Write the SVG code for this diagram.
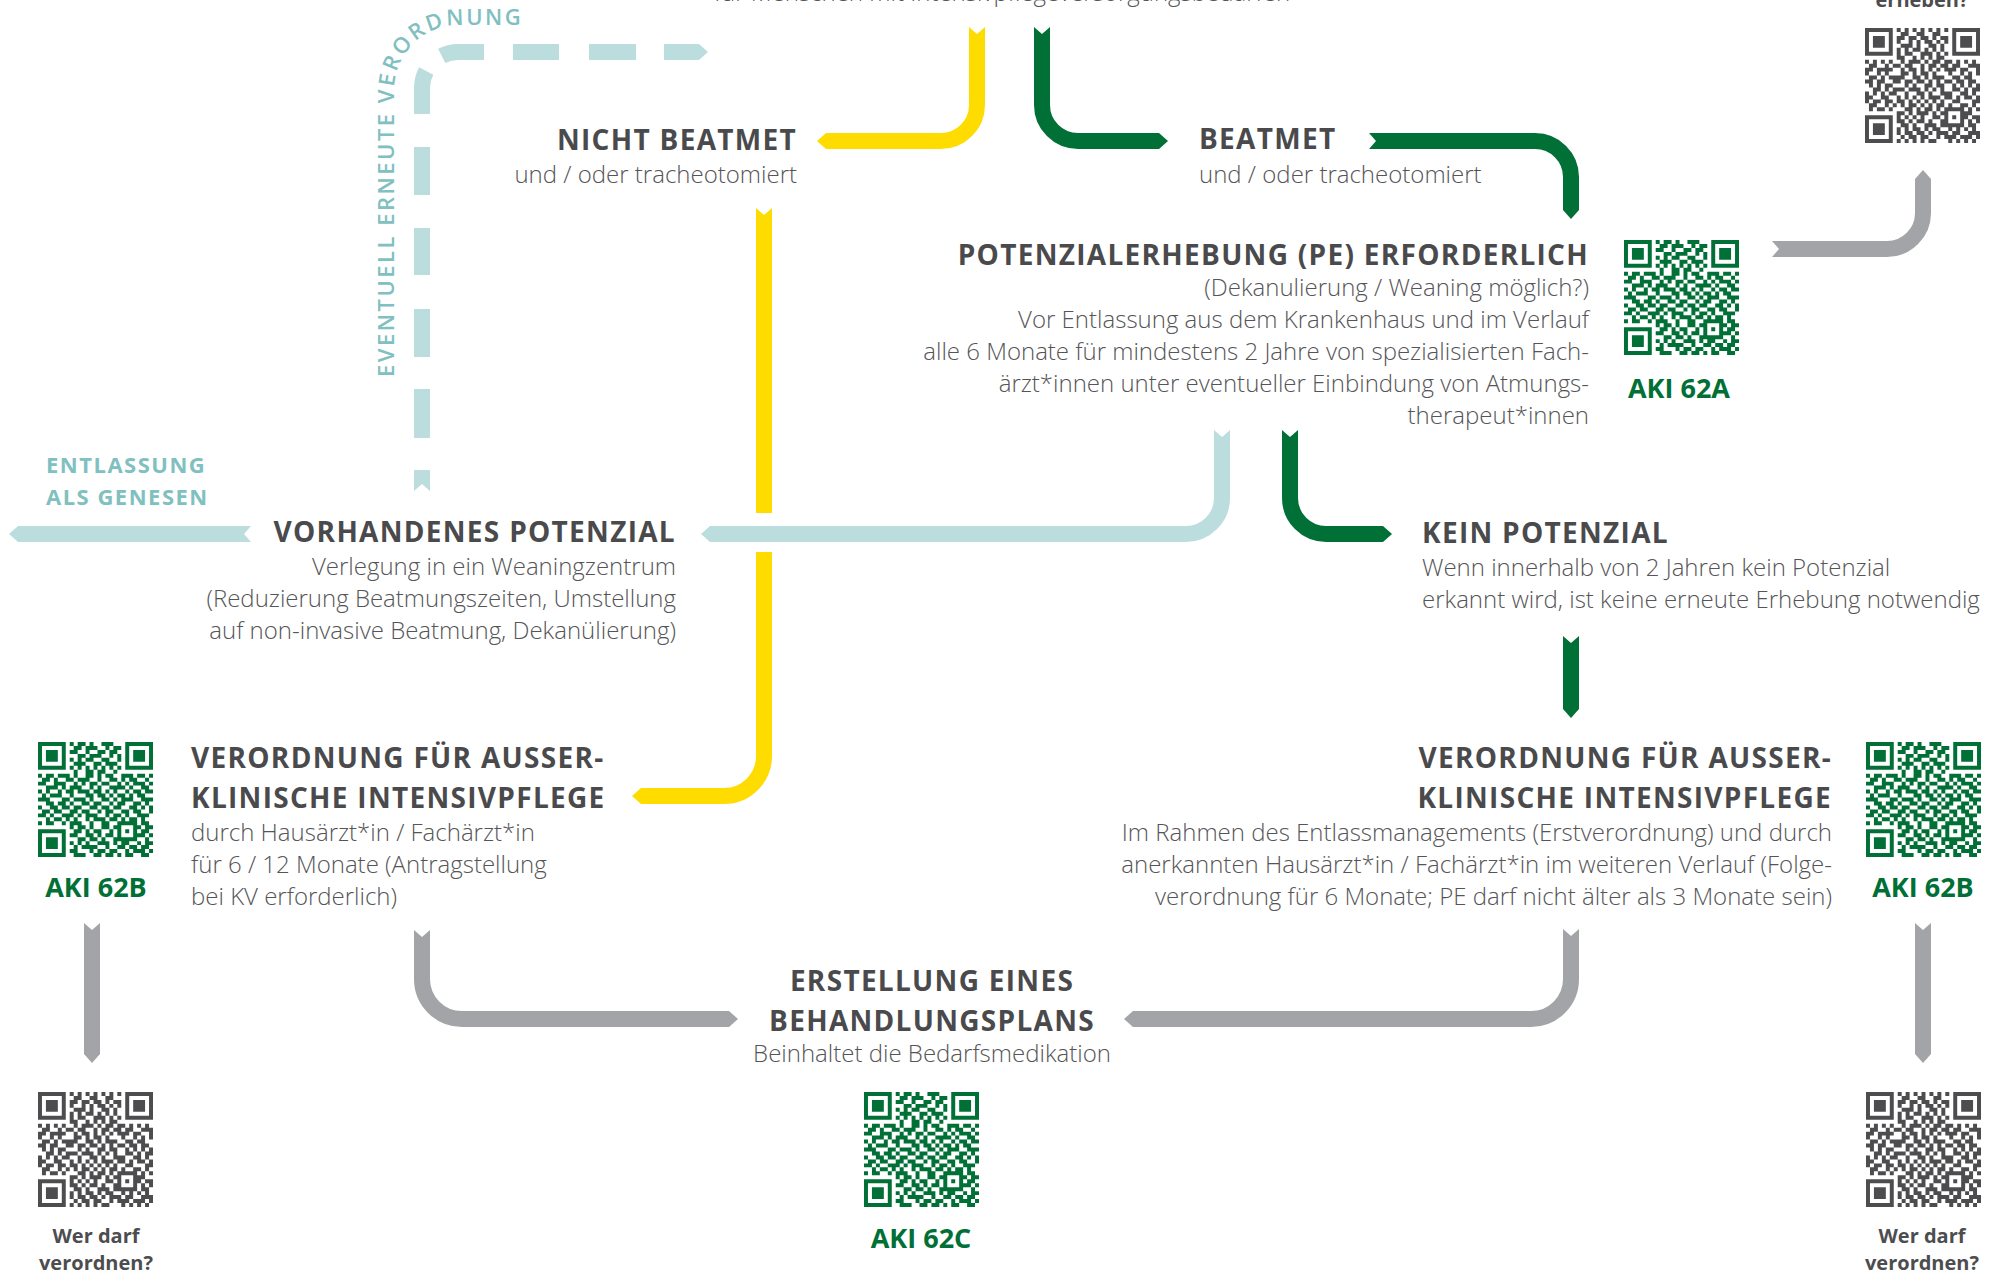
<svg xmlns="http://www.w3.org/2000/svg" xmlns:xlink="http://www.w3.org/1999/xlink" width="2007" height="1274" viewBox="0 0 2007 1274">
<style>
.t{font-family:"Open Sans","Liberation Sans",sans-serif;font-weight:700;font-size:28px;fill:#4a4a4c;letter-spacing:1.3px}
.b{font-family:"Open Sans","Liberation Sans",sans-serif;font-weight:300;font-size:24px;fill:#555557}
.q{font-family:"Open Sans","Liberation Sans",sans-serif;font-weight:700;font-size:27px;fill:#007036;text-anchor:middle}
.w{font-family:"Open Sans","Liberation Sans",sans-serif;font-weight:700;font-size:20px;fill:#4d4d4f;text-anchor:middle}
.e{font-family:"Open Sans","Liberation Sans",sans-serif;font-weight:700;font-size:22px;fill:#80c0c0;letter-spacing:1.5px}
.r{text-anchor:end}
.m{text-anchor:middle}
.ar{fill:none;stroke-width:16;stroke-linecap:butt}
.y{stroke:#ffdc00}
.g{stroke:#007036}
.tl{stroke:#bcdddd}
.gr{stroke:#a3a4a7}
</style>
<defs>
<marker id="tail" markerUnits="userSpaceOnUse" viewBox="-2 -11 10 22" refX="0" refY="0" markerWidth="10" markerHeight="22" orient="auto"><path d="M-2,-10.3L7,0L-2,10.3Z" fill="#fff"/></marker>
<marker id="hY" markerUnits="userSpaceOnUse" viewBox="-1 -8 10 16" refX="0" refY="0" markerWidth="10" markerHeight="16" orient="auto"><path d="M-1,-8H0L9,0L0,8H-1Z" fill="#ffdc00"/></marker>
<marker id="hG" markerUnits="userSpaceOnUse" viewBox="-1 -8 10 16" refX="0" refY="0" markerWidth="10" markerHeight="16" orient="auto"><path d="M-1,-8H0L9,0L0,8H-1Z" fill="#007036"/></marker>
<marker id="hT" markerUnits="userSpaceOnUse" viewBox="-1 -8 10 16" refX="0" refY="0" markerWidth="10" markerHeight="16" orient="auto"><path d="M-1,-8H0L9,0L0,8H-1Z" fill="#bcdddd"/></marker>
<marker id="hR" markerUnits="userSpaceOnUse" viewBox="-1 -8 10 16" refX="0" refY="0" markerWidth="10" markerHeight="16" orient="auto"><path d="M-1,-8H0L9,0L0,8H-1Z" fill="#a3a4a7"/></marker>
<g id="qr">
<path fill="currentColor" fill-rule="evenodd" d="M0,0h7v7h-7zM1,1v5h5v-5zM2,2h3v3h-3zM22,0h7v7h-7zM23,1v5h5v-5zM24,2h3v3h-3zM0,22h7v7h-7zM1,23v5h5v-5zM2,24h3v3h-3z"/>
<path fill="none" stroke="currentColor" stroke-width="1" d="M8 .5h1M10 .5h2M13 .5h1M16 .5h3M9 1.5h2M12 1.5h3M17 1.5h1M19 1.5h2M8 2.5h2M12 2.5h1M15 2.5h2M18 2.5h2M10 3.5h2M13 3.5h3M18 3.5h1M20 3.5h1M8 4.5h1M10 4.5h1M12 4.5h2M16 4.5h2M20 4.5h1M9 5.5h3M14 5.5h2M17 5.5h3M8 6.5h1M10 6.5h1M12 6.5h1M14 6.5h1M16 6.5h1M18 6.5h1M20 6.5h1M9 7.5h1M12 7.5h2M15 7.5h2M19 7.5h1M0 8.5h1M2 8.5h2M5 8.5h3M9 8.5h1M12 8.5h2M15 8.5h1M17 8.5h2M21 8.5h3M25 8.5h2M28 8.5h1M1 9.5h2M4 9.5h1M7 9.5h2M10 9.5h3M15 9.5h1M18 9.5h2M21 9.5h1M23 9.5h2M27 9.5h1M0 10.5h2M4 10.5h3M9 10.5h1M11 10.5h1M13 10.5h2M16 10.5h2M20 10.5h1M22 10.5h1M24 10.5h3M28 10.5h1M2 11.5h3M6 11.5h1M8 11.5h3M13 11.5h1M15 11.5h1M18 11.5h4M23 11.5h1M26 11.5h2M0 12.5h1M2 12.5h1M5 12.5h1M7 12.5h2M10 12.5h3M14 12.5h2M17 12.5h1M19 12.5h1M22 12.5h1M24 12.5h2M27 12.5h2M1 13.5h1M3 13.5h3M8 13.5h1M12 13.5h2M15 13.5h2M18 13.5h1M20 13.5h2M23 13.5h1M25 13.5h2M0 14.5h3M6 14.5h2M9 14.5h3M13 14.5h1M16 14.5h2M19 14.5h1M21 14.5h3M26 14.5h3M2 15.5h2M5 15.5h2M8 15.5h1M11 15.5h2M14 15.5h2M18 15.5h1M20 15.5h2M24 15.5h2M27 15.5h1M0 16.5h1M3 16.5h2M6 16.5h2M9 16.5h2M13 16.5h2M16 16.5h2M19 16.5h2M23 16.5h2M26 16.5h1M28 16.5h1M1 17.5h2M4 17.5h2M8 17.5h2M11 17.5h2M15 17.5h1M17 17.5h2M21 17.5h2M24 17.5h2M28 17.5h1M0 18.5h2M3 18.5h1M6 18.5h3M10 18.5h1M12 18.5h3M17 18.5h1M19 18.5h2M22 18.5h1M25 18.5h3M2 19.5h1M4 19.5h2M7 19.5h1M9 19.5h1M12 19.5h1M14 19.5h3M18 19.5h2M21 19.5h1M23 19.5h2M26 19.5h1M0 20.5h1M2 20.5h2M6 20.5h1M8 20.5h3M13 20.5h1M16 20.5h2M20 20.5h5M26 20.5h2M8 21.5h1M10 21.5h2M13 21.5h1M16 21.5h2M19 21.5h2M24 21.5h2M27 21.5h2M9 22.5h2M12 22.5h1M14 22.5h2M18 22.5h1M20 22.5h1M22 22.5h1M24 22.5h1M26 22.5h2M8 23.5h2M12 23.5h2M15 23.5h1M17 23.5h2M20 23.5h1M24 23.5h3M28 23.5h1M10 24.5h2M13 24.5h2M16 24.5h1M19 24.5h6M27 24.5h1M8 25.5h1M10 25.5h1M12 25.5h1M15 25.5h3M19 25.5h1M21 25.5h2M25 25.5h1M27 25.5h2M9 26.5h1M11 26.5h4M17 26.5h1M20 26.5h2M23 26.5h2M26 26.5h2M8 27.5h2M13 27.5h1M15 27.5h2M18 27.5h2M22 27.5h1M24 27.5h3M28 27.5h1M9 28.5h3M14 28.5h2M17 28.5h2M20 28.5h1M22 28.5h2M26 28.5h2"/>
</g>
<path id="curvepath" d="M394,380 L394,90 A65,65 0 0 1 459,25 L640,25"/>
</defs>
<rect width="2007" height="1274" fill="#fff"/>

<g id="connectors">
<path class="ar y" d="M977,27 L977,105 A36,36 0 0 1 941,141 L826,141" marker-start="url(#tail)" marker-end="url(#hY)"/>
<path class="ar y" d="M764,208 L764,513" marker-start="url(#tail)"/>
<path class="ar y" d="M764,552 L764,756 A40,40 0 0 1 724,796 L641,796" marker-end="url(#hY)"/>
<path class="ar g" d="M1042,27 L1042,105 A36,36 0 0 0 1078,141 L1159,141" marker-start="url(#tail)" marker-end="url(#hG)"/>
<path class="ar g" d="M1369,141 L1535,141 A36,36 0 0 1 1571,177 L1571,210" marker-start="url(#tail)" marker-end="url(#hG)"/>
<path class="ar g" d="M1290,430 L1290,498 A36,36 0 0 0 1326,534 L1383,534" marker-start="url(#tail)" marker-end="url(#hG)"/>
<path class="ar g" d="M1571,636 L1571,709" marker-start="url(#tail)" marker-end="url(#hG)"/>
<path class="ar tl" d="M1222,430 L1222,498 A36,36 0 0 1 1186,534 L710,534" marker-start="url(#tail)" marker-end="url(#hT)"/>
<path class="ar tl" d="M251,534 L18,534" marker-start="url(#tail)" marker-end="url(#hT)"/>
<path class="ar tl" d="M422,491 L422,470" marker-start="url(#tail)"/>
<path class="ar tl" d="M422,438 L422,389 M422,357 L422,309 M422,275 L422,228 M422,195 L422,147 M422,114 L422,88 A36,36 0 0 1 426.2,71.1 M441.7,55.9 A36,36 0 0 1 458,52 L484,52 M513,52 L559,52 M589,52 L636,52"/>
<path class="ar tl" d="M664,52 L699,52" marker-end="url(#hT)"/>
<path class="ar gr" d="M1772,249 L1887,249 A36,36 0 0 0 1923,213 L1923,179" marker-start="url(#tail)" marker-end="url(#hR)"/>
<path class="ar gr" d="M92,923 L92,1054" marker-start="url(#tail)" marker-end="url(#hR)"/>
<path class="ar gr" d="M1923,923 L1923,1054" marker-start="url(#tail)" marker-end="url(#hR)"/>
<path class="ar gr" d="M422,930 L422,979 A40,40 0 0 0 462,1019 L729,1019" marker-start="url(#tail)" marker-end="url(#hR)"/>
<path class="ar gr" d="M1571,929 L1571,979 A40,40 0 0 1 1531,1019 L1133,1019" marker-start="url(#tail)" marker-end="url(#hR)"/>
<text class="e" style="font-weight:600;letter-spacing:2.5px"><textPath href="#curvepath" startOffset="3">EVENTUELL ERNEUTE VERORDNUNG</textPath></text>
</g>

<g id="n-top">
<text class="b m" x="1002" y="1">für Menschen mit Intensivpflegeversorgungsbedarfen</text>
</g>
<g id="n-erheben">
<text class="w" x="1922" y="7">erheben?</text>
<use href="#qr" transform="translate(1865,28) matrix(0,3.9655,3.9655,0,0,0)" color="#4d4d4f"/>
</g>
<g id="n-nicht">
<text class="t r" x="797" y="150">NICHT BEATMET</text>
<text class="b r" x="797" y="183">und / oder tracheotomiert</text>
</g>
<g id="n-beatmet">
<text class="t" x="1199" y="149">BEATMET</text>
<text class="b" x="1199" y="183">und / oder tracheotomiert</text>
</g>
<g id="n-pe">
<text class="t r" x="1589" y="265">POTENZIALERHEBUNG (PE) ERFORDERLICH</text>
<text class="b r" x="1589" y="296">(Dekanulierung / Weaning möglich?)</text>
<text class="b r" x="1589" y="328">Vor Entlassung aus dem Krankenhaus und im Verlauf</text>
<text class="b r" x="1589" y="360">alle 6 Monate für mindestens 2 Jahre von spezialisierten Fach-</text>
<text class="b r" x="1589" y="392">ärzt*innen unter eventueller Einbindung von Atmungs-</text>
<text class="b r" x="1589" y="424">therapeut*innen</text>
</g>
<g id="n-aki62a">
<use href="#qr" transform="translate(1624,240) scale(3.9655)" color="#007036"/>
<text class="q" x="1679" y="398">AKI 62A</text>
</g>
<g id="n-entlassung">
<text class="e" x="46" y="473">ENTLASSUNG</text>
<text class="e" x="46" y="505">ALS GENESEN</text>
</g>
<g id="n-vorhanden">
<text class="t r" x="676" y="542">VORHANDENES POTENZIAL</text>
<text class="b r" x="676" y="575">Verlegung in ein Weaningzentrum</text>
<text class="b r" x="676" y="607">(Reduzierung Beatmungszeiten, Umstellung</text>
<text class="b r" x="676" y="639">auf non-invasive Beatmung, Dekanülierung)</text>
</g>
<g id="n-kein">
<text class="t" x="1422" y="543">KEIN POTENZIAL</text>
<text class="b" x="1422" y="576">Wenn innerhalb von 2 Jahren kein Potenzial</text>
<text class="b" x="1422" y="608">erkannt wird, ist keine erneute Erhebung notwendig</text>
</g>
<g id="n-verordnung-links">
<text class="t" x="191" y="768">VERORDNUNG FÜR AUSSER-</text>
<text class="t" x="191" y="808">KLINISCHE INTENSIVPFLEGE</text>
<text class="b" x="191" y="841">durch Hausärzt*in / Fachärzt*in</text>
<text class="b" x="191" y="873">für 6 / 12 Monate (Antragstellung</text>
<text class="b" x="191" y="905">bei KV erforderlich)</text>
</g>
<g id="n-aki62b-links">
<use href="#qr" transform="translate(38,742) scale(3.9655)" color="#007036"/>
<text class="q" x="96" y="897">AKI 62B</text>
</g>
<g id="n-verordnung-rechts">
<text class="t r" x="1832" y="768">VERORDNUNG FÜR AUSSER-</text>
<text class="t r" x="1832" y="808">KLINISCHE INTENSIVPFLEGE</text>
<text class="b r" x="1832" y="841">Im Rahmen des Entlassmanagements (Erstverordnung) und durch</text>
<text class="b r" x="1832" y="873">anerkannten Hausärzt*in / Fachärzt*in im weiteren Verlauf (Folge-</text>
<text class="b r" x="1832" y="905">verordnung für 6 Monate; PE darf nicht älter als 3 Monate sein)</text>
</g>
<g id="n-aki62b-rechts">
<use href="#qr" transform="translate(1866,742) scale(3.9655)" color="#007036"/>
<text class="q" x="1923" y="897">AKI 62B</text>
</g>
<g id="n-erstellung">
<text class="t m" x="932" y="991">ERSTELLUNG EINES</text>
<text class="t m" x="932" y="1031">BEHANDLUNGSPLANS</text>
<text class="b m" x="932" y="1062">Beinhaltet die Bedarfsmedikation</text>
</g>
<g id="n-aki62c">
<use href="#qr" transform="translate(864,1092) scale(3.9655)" color="#007036"/>
<text class="q" x="921" y="1248">AKI 62C</text>
</g>
<g id="n-wer-links">
<use href="#qr" transform="translate(38,1092) matrix(0,3.9655,3.9655,0,0,0)" color="#4d4d4f"/>
<text class="w" x="96" y="1243">Wer darf</text>
<text class="w" x="96" y="1270">verordnen?</text>
</g>
<g id="n-wer-rechts">
<use href="#qr" transform="translate(1866,1092) matrix(0,3.9655,3.9655,0,0,0)" color="#4d4d4f"/>
<text class="w" x="1922" y="1243">Wer darf</text>
<text class="w" x="1922" y="1270">verordnen?</text>
</g>
</svg>
